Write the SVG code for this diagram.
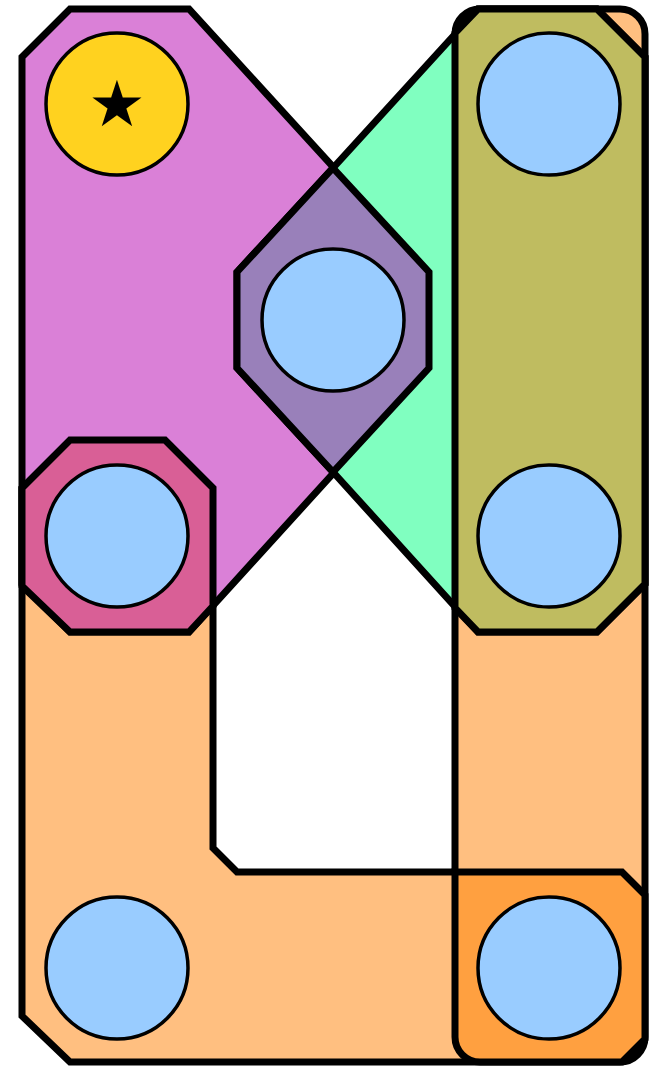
<svg xmlns="http://www.w3.org/2000/svg" width="657" height="1066" viewBox="0 0 657 1066">
<style>
.reg{stroke:#000;stroke-width:7;stroke-linejoin:miter}
.node{fill:#99ccff;stroke:#000;stroke-width:3.5}
.star{font-family:"DejaVu Sans",sans-serif;font-size:64px;fill:#000}
</style>
<rect width="657" height="1066" fill="#fff"/>
<g id="regions">
<path id="set-orange" class="reg" fill="#ffbf80" d="M22,1016 L22,488 L70,440 L165,440 L213,488 L213,848 L237,872 L455,872 L455,34 A25,25 0 0 1 480,9 L620,9 A25,25 0 0 1 645,34 L645,1037 A25,25 0 0 1 620,1062 L70,1062 Z"/>
<path id="set-magenta" class="reg" fill="#da80d7" d="M22,57 L70,9 L189,9 L429,272 L429,368 L189,632 L70,632 L22,584 Z"/>
<path id="set-green" class="reg" fill="#80ffc0" d="M333,168 L478,9 L597,9 L645,57 L645,584 L597,632 L478,632 L333,472 L237,368 L237,272 Z"/>
<path id="set-olive" class="reg" fill="#bfbc60" d="M478,9 L597,9 L645,57 L645,584 L597,632 L478,632 L455,608 L455,33 Z"/>
<path id="set-purple" class="reg" fill="#9980ba" d="M333,168 L429,272 L429,368 L333,472 L237,368 L237,272 Z"/>
<path id="set-pink" class="reg" fill="#d95f96" d="M70,440 L165,440 L213,488 L213,606 L189,632 L70,632 L22,586 L22,488 Z"/>
<path id="set-darkorange" class="reg" fill="#ffa040" d="M455,872 L622,872 L645,895 L645,1039 L622,1062 L480,1062 A25,25 0 0 1 455,1037 Z"/>
</g>
<g id="connectors"></g>
<g id="n1"><circle cx="117" cy="104" r="71" fill="#ffd21f" stroke="#000" stroke-width="3.5"/><text class="star" x="117" y="104" text-anchor="middle" dominant-baseline="central">★</text></g>
<g id="n2"><circle class="node" cx="549" cy="104" r="71"/></g>
<g id="n3"><circle class="node" cx="333" cy="320" r="71"/></g>
<g id="n4"><circle class="node" cx="117" cy="536" r="71"/></g>
<g id="n5"><circle class="node" cx="549" cy="536" r="71"/></g>
<g id="n6"><circle class="node" cx="117" cy="968" r="71"/></g>
<g id="n7"><circle class="node" cx="549" cy="968" r="71"/></g>
</svg>
